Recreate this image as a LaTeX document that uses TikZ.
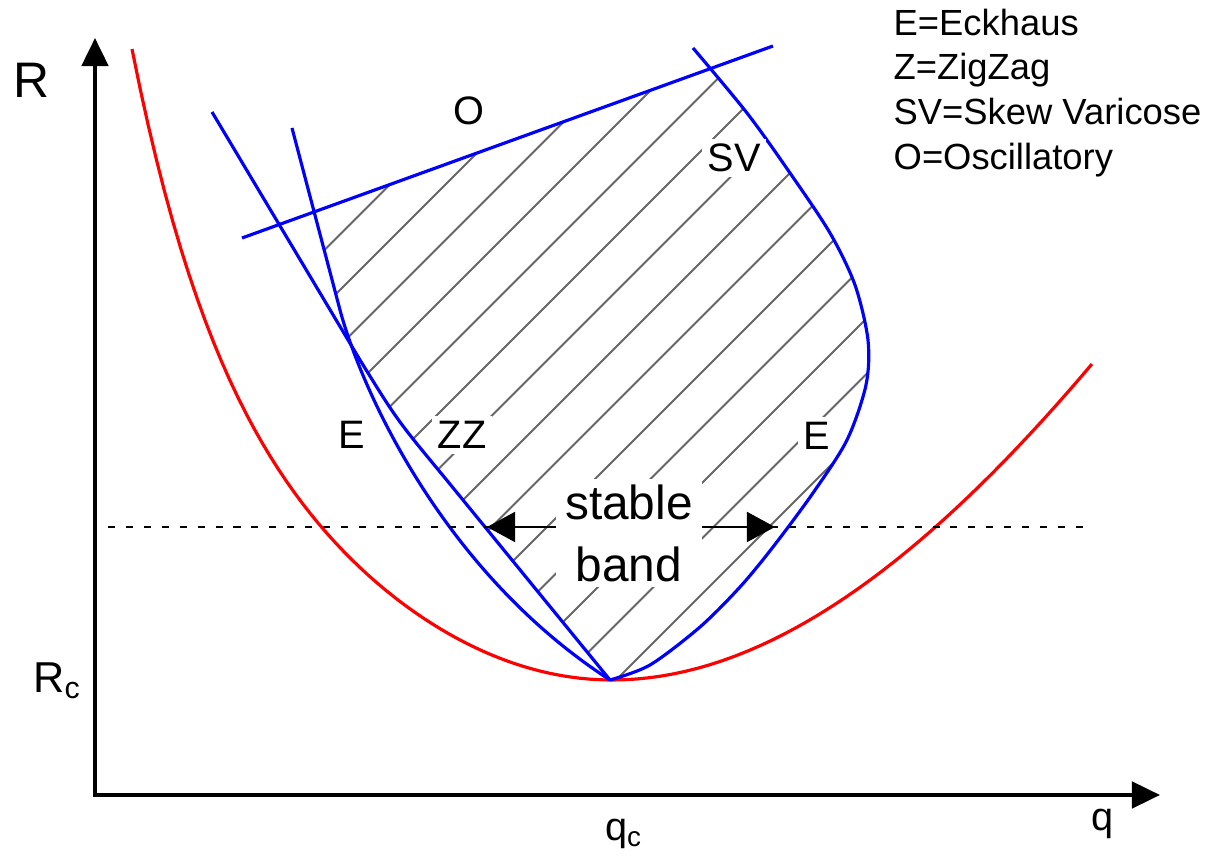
\documentclass[tikz,border=0pt]{standalone}
\usepackage{fontspec}
\setmainfont{Liberation Sans}
\usetikzlibrary{arrows.meta,calc}

\begin{document}
\begin{tikzpicture}[
            axis/.style={line width=1.15pt, {Triangle[length=8pt,width=7.5pt]}-{Triangle[length=8pt,width=7.5pt]}},
            neutral/.style={red, line width=0.9pt},
            bound/.style={blue, line width=0.9pt},
            hatchline/.style={black!60, line width=0.6pt},
            lbl/.style={fill=white, inner sep=1.5pt, font=\fontsize{11.3}{13}\selectfont},
            bandarrow/.style={line width=0.75pt, -{Triangle[length=8pt,width=8.5pt]}}
        ]
            \useasboundingbox (0,0) rectangle (12.11,8.60);

            \coordinate (origin) at (0.95,0.65);
            \coordinate (ytip) at (0.95,8.22);
            \coordinate (xtip) at (11.60,0.65);
            \draw[axis] (ytip) -- (origin) -- (xtip);
            \node[font=\fontsize{14.2}{16}\selectfont] (rlabel) at (0.32,7.80) {R};
            \node[font=\fontsize{12.3}{14}\selectfont] (rc) at (0.575,1.79) {R\textsubscript{c}};
            \node[font=\fontsize{11.3}{13}\selectfont] (qc) at (6.24,0.26) {q\textsubscript{c}};
            \node[font=\fontsize{11.3}{13}\selectfont] (qlabel) at (11.03,0.36) {q};

            % stable region
            \begin{scope}
                \clip (2,6.068) -- (9,8.599) -- (9,1) -- (2,1) -- cycle;
                \clip plot[smooth] coordinates {(6.93,8.12) (7.47,7.47) (7.90,6.87) (8.30,6.27) (8.55,5.75) (8.68,5.20) (8.66,4.75) (8.47,4.20) (8.13,3.67) (7.73,3.13) (7.40,2.73) (7.00,2.33) (6.50,1.95) (6.10,1.80)}
                    -- (4.45,3.82) .. controls (3.97,4.40) .. (3.60,5.00) -- (3.48,5.20) -- (2.92,7.32) -- cycle;
                \foreach \k in {-3.41,-2.855,...,4.9}
                    \draw[hatchline] (2,{2-(\k)}) -- (9,{9-(\k)});
            \end{scope}

            \draw[neutral] plot[domain=1.32:6.12, samples=60] (\x, {1.80+0.173*(6.12-\x)*(6.12-\x)+(0.235*max(6.12-\x,0))^7})
                -- plot[domain=6.12:10.92, samples=40] (\x, {1.80+0.165*(\x-6.12)*(\x-6.12)-0.0058*(\x-6.12)*(\x-6.12)*(\x-6.12)});

            \coordinate (oleft) at (2.42,6.22);
            \coordinate (oright) at (7.73,8.14);
            \draw[bound] (oleft) -- (oright);
            \draw[bound] (2.12,7.48) -- (3.60,5.00) .. controls (3.97,4.40) .. (4.45,3.82) -- (6.10,1.80);
            \draw[bound] (2.92,7.32) -- (3.40,5.50) .. controls (3.60,4.75) and (4.40,2.90) .. (6.10,1.80);
            \draw[bound] plot[smooth] coordinates {(6.93,8.12) (7.47,7.47) (7.90,6.87) (8.30,6.27) (8.55,5.75) (8.68,5.20) (8.66,4.75) (8.47,4.20) (8.13,3.67) (7.73,3.13) (7.40,2.73) (7.00,2.33) (6.50,1.95) (6.10,1.80)};

            \coordinate (dleft) at (1.08,3.33);
            \coordinate (dright) at (10.86,3.33);
            \draw[line width=0.8pt, dash pattern=on 2pt off 3.1pt] (dleft) -- (dright);

            \node[lbl] (olabel) at (4.69,7.49) {O};
            \node[lbl] (svlabel) at (7.34,7.02) {SV};
            \node[lbl] (eleft) at (3.52,4.25) {E};
            \node[lbl] (zzlabel) at (4.62,4.25) {ZZ};
            \node[lbl] (eright) at (8.17,4.24) {E};

            \coordinate (ltip) at (4.87,3.33);
            \coordinate (rtip) at (7.75,3.33);
            \node[fill=white, inner xsep=2.5pt, inner ysep=1.5pt, align=center, font=\fontsize{13.6}{17.6}\selectfont] (band) at (6.29,3.27) {stable\\band};
            \draw[bandarrow] (band.west |- ltip) -- (ltip);
            \draw[bandarrow] (band.east |- rtip) -- (rtip);

            \node[anchor=west, align=left, inner sep=0pt, font=\fontsize{10.35}{12.75}\selectfont] (legend) at (8.93,7.67) {E=Eckhaus\\Z=ZigZag\\SV=Skew Varicose\\O=Oscillatory};
        \end{tikzpicture}
\end{document}
